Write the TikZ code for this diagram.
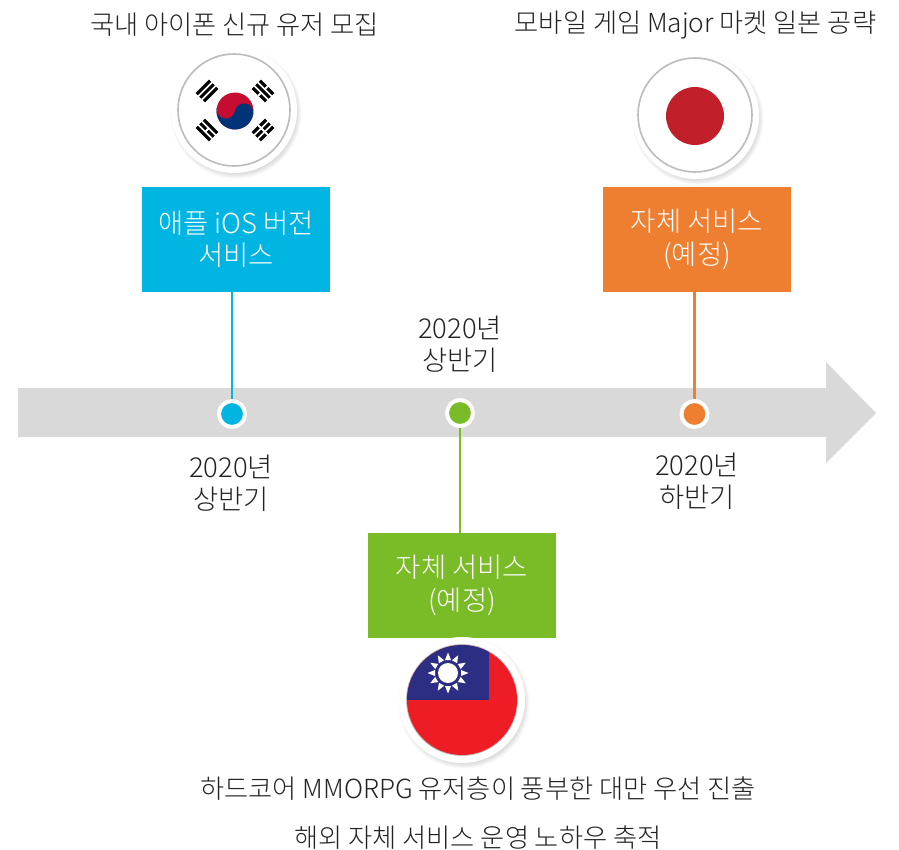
\documentclass[tikz,border=0pt]{standalone}
\usepackage{fontspec}
\setmainfont{Noto Sans CJK KR}[UprightFont=* Light]
\definecolor{cblue}{HTML}{00B5E2}
\definecolor{corange}{HTML}{EE7F31}
\definecolor{cgreen}{HTML}{7ABC27}
\definecolor{cband}{HTML}{D9D9D9}
\definecolor{cring}{HTML}{BDBDBD}
\definecolor{ctext}{HTML}{222222}
\definecolor{krred}{HTML}{C60C30}
\definecolor{krblue}{HTML}{003478}
\definecolor{jpred}{HTML}{C1202A}
\definecolor{twblue}{HTML}{2B2E82}
\definecolor{twred}{HTML}{EE1C25}
\begin{document}
\begin{tikzpicture}[x=0.03cm,y=-0.03cm,line join=round,font=\fontsize{22.4}{27.6}\selectfont,text=ctext]
	\tikzset{
		lbl/.style={align=center,inner sep=0pt},
		big/.style={font=\fontsize{23.4}{27.6}\selectfont},
		card/.style={big,minimum width=5.64cm,minimum height=3.15cm,inner sep=0pt,align=center,text=white,fill=#1},
		dot/.style={circle,minimum size=0.78cm,inner sep=0pt,fill=#1,draw=white,line width=3.4pt},
		link/.style={line width=2pt,draw=#1},
		badge/.style={fill=white}
	}
	\useasboundingbox (0,0) rectangle (899,850);
	\def\rbadge{63}\def\rdisc{56}
	% timeline band
	\fill[cband] (18,388)--(826,388)--(826,362)--(876,413)--(826,463)--(826,437)--(18,437)--cycle;
	% cards
	\node[card=cblue] (cardios) at (236,239.5) {애플 iOS 버전\\서비스};
	\node[card=corange] (cardjp) at (697,239.5) {자체 서비스\\(예정)};
	\node[card=cgreen] (cardtw) at (462,585.5) {자체 서비스\\(예정)};
	% dots
	\path (232,414) node[dot=cblue] (dotios) {};
	\path (460,413) node[dot=cgreen] (dottw) {};
	\path (694.5,414) node[dot=corange] (dotjp) {};
	\draw[link=cblue] (cardios.south -| dotios)--(dotios.north);
	\draw[link=corange] (cardjp.south -| dotjp)--(dotjp.north);
	\draw[link=cgreen] (dottw.south)--(cardtw.north -| dottw);
	% white badges with soft shadow
	\foreach \cx/\cy in {234/110,696/116,462/700}{
		\foreach \s in {0,...,7}\fill[black,opacity=0.02] (\cx+2,\cy+3) circle ({\rbadge-3+\s*0.8});
		\fill[badge] (\cx,\cy) circle (\rbadge);
	}
	% korea
	\draw[cring,line width=1.4pt] (234,110) circle (\rdisc);
	\begin{scope}[shift={(235,111)},rotate=-10]
		\def\r{18.5}
		\fill[krred] (0,0) circle (\r);
		\fill[krblue] (-\r,0) arc (180:0:\r) arc (0:-180:\r/2) arc (0:180:\r/2)--cycle;
	\end{scope}
	\foreach \cx/\cy/\ang in {-28/-20/45,28/-20/-45,-28/19/-45,28/19/45}{
		\begin{scope}[shift={(235+\cx,111+\cy)},rotate=\ang]
			\foreach \b in {-5,0,5}\draw[black,line width=2.7pt] (-9.5,\b)--(9.5,\b);
		\end{scope}
	}
	\foreach \cx/\cy/\ang/\b in {28/-20/-45/-5,28/-20/-45/5,-28/19/-45/0,28/19/45/-5,28/19/45/0,28/19/45/5}{
		\begin{scope}[shift={(235+\cx,111+\cy)},rotate=\ang]
			\draw[white,line width=3.2pt] (-1,\b)--(1,\b);
		\end{scope}
	}
	% japan
	\draw[cring,line width=1.4pt] (695,115) circle (\rdisc+1);
	\fill[jpred] (695,116) circle (29);
	% taiwan
	\draw[cring,line width=1.6pt] (462,700) circle (55);
	\begin{scope}
		\clip (462,700) circle (55);
		\fill[twred] (400,640) rectangle (525,760);
		\fill[twblue] (400,640) rectangle (489,700);
		\foreach \a in {0,30,...,330}\fill[white,shift={(448,673)},rotate=\a] (-3,-13)--(0,-20.5)--(3,-13)--cycle;
		\fill[twblue] (448,673) circle (12);
		\fill[white] (448,673) circle (10);
	\end{scope}
	% labels
	\node[lbl] (titleios) at (234.5,25) {국내 아이폰 신규 유저 모집};
	\node[lbl] (titlejp) at (695.5,25) {모바일 게임 Major 마켓 일본 공략};
	\node[lbl,big] (dateios) at (231,483) {2020년\\상반기};
	\node[lbl,big] (datetw) at (460,344) {2020년\\상반기};
	\node[lbl,big] (datejp) at (697,481) {2020년\\하반기};
	\node[lbl] (notetwa) at (478,789) {하드코어 MMORPG 유저층이 풍부한 대만 우선 진출};
	\node[lbl] (notetwb) at (478,838) {해외 자체 서비스 운영 노하우 축적};
\end{tikzpicture}
\end{document}
